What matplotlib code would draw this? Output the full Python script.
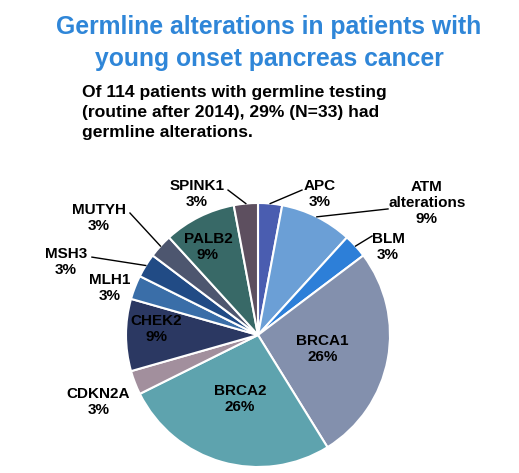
import numpy as np
import matplotlib
matplotlib.use('Agg')
import matplotlib.pyplot as plt

# Dati: alterazioni germinali (conteggi, totale 34)
genes = ['APC', 'ATM', 'BLM', 'BRCA1', 'BRCA2', 'CDKN2A', 'CHEK2',
         'MLH1', 'MSH3', 'MUTYH', 'PALB2', 'SPINK1']
label_names = ['APC', 'ATM\nalterations', 'BLM', 'BRCA1', 'BRCA2', 'CDKN2A', 'CHEK2',
               'MLH1', 'MSH3', 'MUTYH', 'PALB2', 'SPINK1']
counts = [1, 3, 1, 9, 9, 1, 3, 1, 1, 1, 3, 1]
percent_labels = ['3%', '9%', '3%', '26%', '26%', '3%', '9%', '3%', '3%', '3%', '9%', '3%']

colors = ['#4a5db0', '#6b9fd6', '#2d7fd8', '#8390ad', '#5ea3ae', '#a28f9d',
          '#2b3862', '#3a6ea8', '#214b85', '#4d566f', '#386967', '#5d4f5f']

# posizioni delle etichette (unita' del raggio, rispetto al centro)
label_pos = {
    'APC': (0.47, 1.068), 'ATM': (1.28, 1.0), 'BLM': (0.985, 0.667),
    'BRCA1': (0.49, -0.106), 'BRCA2': (-0.136, -0.485), 'CDKN2A': (-1.21, -0.51),
    'CHEK2': (-0.77, 0.045), 'MLH1': (-1.12, 0.356), 'MSH3': (-1.455, 0.553),
    'MUTYH': (-1.205, 0.886), 'PALB2': (-0.379, 0.667), 'SPINK1': (-0.462, 1.068),
}
# inizio delle linee guida
leader_start = {
    'SPINK1': (-0.227, 1.098), 'APC': (0.333, 1.098), 'ATM': (0.985, 0.955),
    'BLM': (0.864, 0.75), 'MUTYH': (-0.97, 0.924), 'MSH3': (-1.258, 0.59),
}

W, H = 519, 473
cx, cy, R = 258, H - 335, 132

fig = plt.figure(figsize=(W / 100, H / 100), dpi=100)
ax = fig.add_axes([0, 0, 1, 1])

wedges, _ = ax.pie(counts, colors=colors, startangle=90, counterclock=False,
                   center=(cx, cy), radius=R,
                   wedgeprops=dict(edgecolor='white', linewidth=1.5))
ax.set_xlim(0, W)
ax.set_ylim(0, H)
ax.set_aspect('equal')
ax.axis('off')

font = 'Liberation Sans'
for i, g in enumerate(genes):
    ux, uy = label_pos[g]
    ax.text(cx + ux * R, cy + uy * R, label_names[i] + '\n' + percent_labels[i],
            ha='center', va='center', fontsize=11, fontweight='bold',
            family=font, linespacing=1.2, color='black')
    if g in leader_start:
        w = wedges[i]
        mid = np.deg2rad((w.theta1 + w.theta2) / 2)
        sx, sy = leader_start[g]
        ax.plot([cx + sx * R, cx + R * np.cos(mid)], [cy + sy * R, cy + R * np.sin(mid)],
                color='black', linewidth=1.0)

fig.text(269 / W, 1 - 15 / H, 'Germline alterations in patients with\nyoung onset pancreas cancer',
         ha='center', va='top', fontsize=17.8, fontweight='bold', family=font,
         color='#2f86d8', linespacing=1.4)
fig.text(82 / W, 1 - 85 / H, 'Of 114 patients with germline testing\n(routine after 2014), 29% (N=33) had\ngermline alterations.',
         ha='left', va='top', fontsize=12.6, fontweight='bold', family=font,
         color='black', linespacing=1.42)

fig.savefig('out.png', dpi=100)
